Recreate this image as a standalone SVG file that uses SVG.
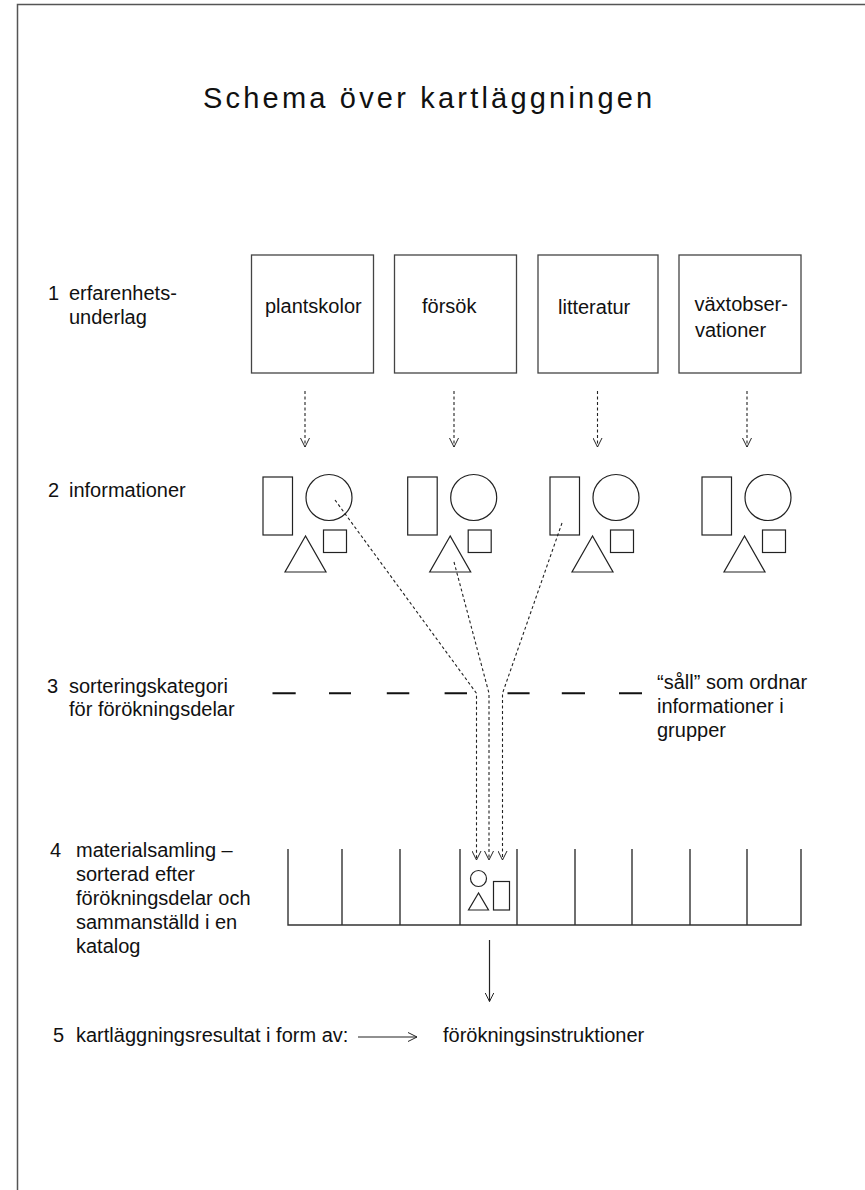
<svg xmlns="http://www.w3.org/2000/svg" width="865" height="1190" viewBox="0 0 865 1190">
<defs>
<style>
text{font-family:"Liberation Sans",Arial,sans-serif;font-size:20px;fill:#111}
.title{font-size:29px;letter-spacing:3.2px}
.box{fill:none;stroke:#444;stroke-width:1.3}
.shp{fill:none;stroke:#222;stroke-width:1.2}
.dash{fill:none;stroke:#222;stroke-width:1.1;stroke-dasharray:3 2.5}
.solid{fill:none;stroke:#222;stroke-width:1.2}
.sieve{fill:none;stroke:#111;stroke-width:2}
.wall{fill:none;stroke:#333;stroke-width:1.4}
</style>
<marker id="ah" viewBox="0 0 10 10" refX="10" refY="5" markerWidth="9" markerHeight="10" markerUnits="userSpaceOnUse" orient="auto">
<path d="M0,0 L10,5 L0,10" fill="none" stroke="#222" stroke-width="1.1"/>
</marker>
<g id="shapes">
<rect class="shp" x="263" y="477" width="29.5" height="58"/>
<circle class="shp" cx="329" cy="497.5" r="23"/>
<rect class="shp" x="323.5" y="530" width="23" height="22.5"/>
<polygon class="shp" points="305.5,536 285,572 326,572"/>
</g>
</defs>
<g id="frame">
<path d="M17.5,1190 V4.5 H865" fill="none" stroke="#555" stroke-width="1.5"/>
</g>
<g id="title"><text class="title" x="203" y="108">Schema över kartläggningen</text></g>
<g id="label1"><text x="48" y="300">1</text><text x="69" y="300">erfarenhets-</text><text x="69" y="324">underlag</text></g>
<g id="label2"><text x="48" y="497">2</text><text x="69" y="497">informationer</text></g>
<g id="label3"><text x="47" y="693">3</text><text x="69" y="693">sorteringskategori</text><text x="69" y="716">för förökningsdelar</text></g>
<g id="label4"><text x="50" y="857">4</text><text x="76" y="857">materialsamling –</text><text x="76" y="881">sorterad efter</text><text x="76" y="905">förökningsdelar och</text><text x="76" y="929">sammanställd i en</text><text x="76" y="953">katalog</text></g>
<g id="label5"><text x="53" y="1042">5</text><text x="76" y="1042">kartläggningsresultat i form av:</text></g>
<g id="result"><text x="443" y="1042">förökningsinstruktioner</text></g>
<g id="sieve-note"><text x="657" y="689">“såll” som ordnar</text><text x="657" y="713">informationer i</text><text x="657" y="737">grupper</text></g>
<g id="box-plantskolor"><rect class="box" x="251.5" y="255" width="122" height="118"/><text x="265" y="313">plantskolor</text></g>
<g id="box-forsok"><rect class="box" x="394.5" y="255" width="122" height="118"/><text x="422" y="313">försök</text></g>
<g id="box-litteratur"><rect class="box" x="538" y="255" width="120" height="118"/><text x="558" y="314">litteratur</text></g>
<g id="box-vaxtobs"><rect class="box" x="679" y="255" width="122" height="118"/><text x="694.5" y="311">växtobser-</text><text x="695" y="337">vationer</text></g>
<g id="info-1"><use href="#shapes"/></g>
<g id="info-2"><use href="#shapes" transform="translate(144.7,0)"/></g>
<g id="info-3"><use href="#shapes" transform="translate(287,0)"/></g>
<g id="info-4"><use href="#shapes" transform="translate(439,0)"/></g>
<g id="catalog">
<path class="wall" d="M288,849 V925 H801 V849"/>
<path class="wall" d="M342,849 V925 M400,849 V925 M460,849 V925 M517,849 V925 M575,849 V925 M632,849 V925 M690,849 V925 M747,849 V925"/>
<circle class="shp" cx="478.5" cy="878.5" r="8"/>
<rect class="shp" x="493.5" y="881.5" width="16" height="28.5"/>
<polygon class="shp" points="478.5,893 468.5,910 488.5,910"/>
</g>
<g id="connectors">
<path class="dash" d="M305,391 V447" marker-end="url(#ah)"/>
<path class="dash" d="M454,391 V447" marker-end="url(#ah)"/>
<path class="dash" d="M597.5,391 V447" marker-end="url(#ah)"/>
<path class="dash" d="M747,391 V447" marker-end="url(#ah)"/>
<path class="dash" d="M335,500 L476.5,693.3 V860" marker-end="url(#ah)"/>
<path class="dash" d="M454,562 L489,693.3 V860" marker-end="url(#ah)"/>
<path class="dash" d="M562,523 L502.5,693.3 V860" marker-end="url(#ah)"/>
<path class="sieve" d="M272.5,693.3 H295.7 M329,693.3 H351 M386.8,693.3 H409.3 M444.6,693.3 H467 M507.5,693.3 H529.6 M561.8,693.3 H585 M619,693.3 H642"/>
<path class="solid" d="M489.5,940 V1001.5" marker-end="url(#ah)"/>
<path class="solid" d="M358,1037 H417" marker-end="url(#ah)"/>
</g>
</svg>
